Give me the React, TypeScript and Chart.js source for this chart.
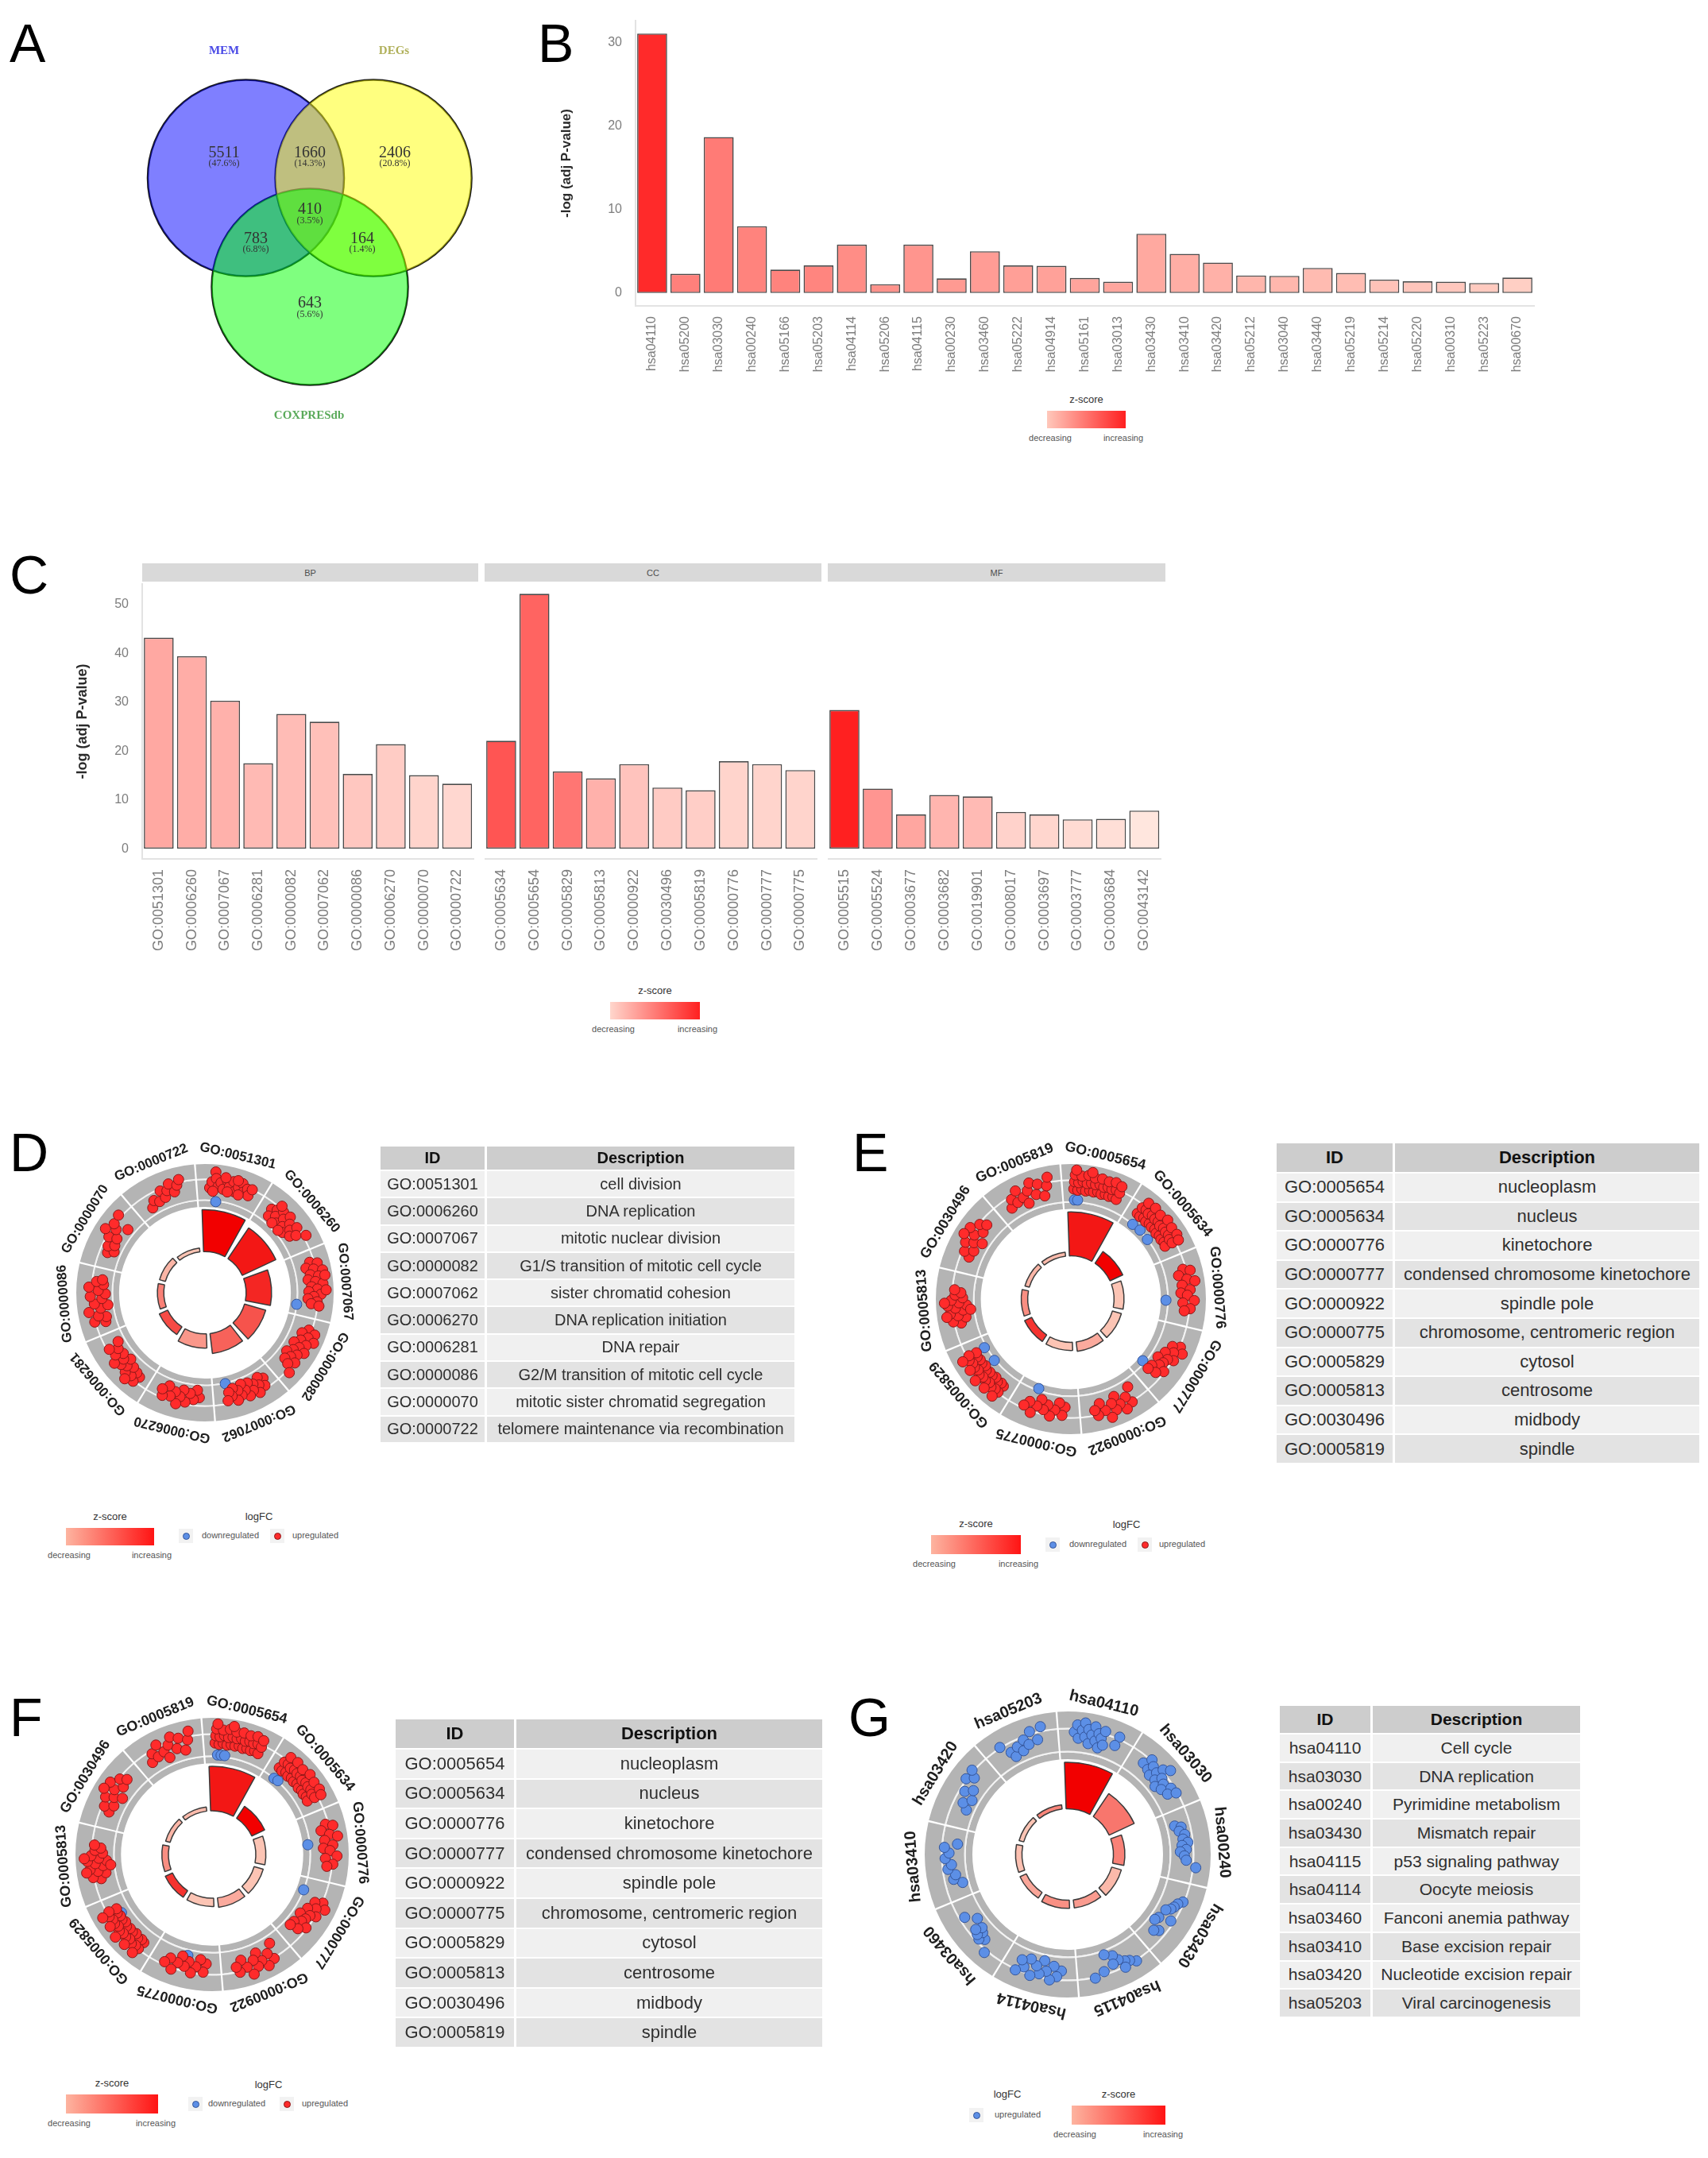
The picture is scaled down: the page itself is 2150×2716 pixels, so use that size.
import React, { useEffect, useRef } from 'react';
import { Chart, registerables } from 'chart.js';

Chart.register(...registerables);

const SANS = "'Liberation Sans', Arial, Helvetica, sans-serif";
const SERIF = "'Liberation Serif', 'Times New Roman', serif";
Chart.defaults.font.family = SANS;

/* ================= A : Venn ================= */
const vennSetNames = ['MEM', 'DEGs', 'COXPRESdb'];
// MEM only, MEM∩DEGs, DEGs only, all three, MEM∩COX, DEGs∩COX, COX only
const vennRegionCounts = [5511, 1660, 2406, 410, 783, 164, 643];

/* ================= B : KEGG bars ================= */
const keggIds = ['hsa04110', 'hsa05200', 'hsa03030', 'hsa00240', 'hsa05166', 'hsa05203', 'hsa04114', 'hsa05206', 'hsa04115', 'hsa00230', 'hsa03460', 'hsa05222', 'hsa04914', 'hsa05161', 'hsa03013', 'hsa03430', 'hsa03410', 'hsa03420', 'hsa05212', 'hsa03040', 'hsa03440', 'hsa05219', 'hsa05214', 'hsa05220', 'hsa00310', 'hsa05223', 'hsa00670'];
const keggLogP = [31.1, 2.3, 18.7, 8.0, 2.8, 3.3, 5.8, 1.05, 5.8, 1.75, 5.0, 3.3, 3.25, 1.8, 1.35, 7.1, 4.7, 3.65, 2.1, 2.05, 3.0, 2.4, 1.6, 1.4, 1.35, 1.2, 1.85];
const keggZ = [9.8, 6.4, 6.6, 6.3, 6.3, 6.2, 5.9, 5.7, 5.6, 5.4, 5.3, 5.2, 5.1, 5.0, 4.9, 4.8, 4.6, 4.5, 4.3, 4.25, 4.1, 4.0, 3.8, 3.7, 3.6, 3.5, 3.3];
const keggYTicks = [0, 10, 20, 30];

/* ================= C : GO bars ================= */
const goCategories = ['BP', 'CC', 'MF'];
const bpIds = ['GO:0051301', 'GO:0006260', 'GO:0007067', 'GO:0006281', 'GO:0000082', 'GO:0007062', 'GO:0000086', 'GO:0006270', 'GO:0000070', 'GO:0000722'];
const bpLogP = [43.2, 39.4, 30.3, 17.5, 27.6, 26.0, 15.3, 21.4, 15.05, 13.3];
const bpZ = [6.6, 6.3, 6.1, 5.6, 5.5, 5.3, 4.9, 4.6, 4.2, 4.0];
const ccIds = ['GO:0005634', 'GO:0005654', 'GO:0005829', 'GO:0005813', 'GO:0000922', 'GO:0030496', 'GO:0005819', 'GO:0000776', 'GO:0000777', 'GO:0000775'];
const ccLogP = [22.1, 52.2, 15.8, 14.4, 17.3, 12.5, 11.96, 17.9, 17.3, 16.1];
const ccZ = [11.1, 10.3, 9.3, 6.1, 5.1, 4.7, 4.5, 4.2, 4.2, 4.2];
const mfIds = ['GO:0005515', 'GO:0005524', 'GO:0003677', 'GO:0003682', 'GO:0019901', 'GO:0008017', 'GO:0003697', 'GO:0003777', 'GO:0003684', 'GO:0043142'];
const mfLogP = [28.4, 12.3, 7.0, 11.0, 10.7, 7.5, 7.0, 6.0, 6.1, 7.8];
const mfZ = [14.0, 7.6, 6.7, 5.9, 5.6, 4.3, 4.1, 3.8, 3.6, 3.2];
const goYTicks = [0, 10, 20, 30, 40, 50];

/* ================= D–G : circle terms & tables ================= */
const bpCircleIds = ['GO:0051301', 'GO:0006260', 'GO:0007067', 'GO:0000082', 'GO:0007062', 'GO:0006270', 'GO:0006281', 'GO:0000086', 'GO:0000070', 'GO:0000722'];
const bpCircleDesc = ['cell division', 'DNA replication', 'mitotic nuclear division', 'G1/S transition of mitotic cell cycle', 'sister chromatid cohesion', 'DNA replication initiation', 'DNA repair', 'G2/M transition of mitotic cell cycle', 'mitotic sister chromatid segregation', 'telomere maintenance via recombination'];
const ccCircleIds = ['GO:0005654', 'GO:0005634', 'GO:0000776', 'GO:0000777', 'GO:0000922', 'GO:0000775', 'GO:0005829', 'GO:0005813', 'GO:0030496', 'GO:0005819'];
const ccCircleDesc = ['nucleoplasm', 'nucleus', 'kinetochore', 'condensed chromosome kinetochore', 'spindle pole', 'chromosome, centromeric region', 'cytosol', 'centrosome', 'midbody', 'spindle'];
const keggCircleIds = ['hsa04110', 'hsa03030', 'hsa00240', 'hsa03430', 'hsa04115', 'hsa04114', 'hsa03460', 'hsa03410', 'hsa03420', 'hsa05203'];
const keggCircleDesc = ['Cell cycle', 'DNA replication', 'Pyrimidine metabolism', 'Mismatch repair', 'p53 signaling pathway', 'Oocyte meiosis', 'Fanconi anemia pathway', 'Base excision repair', 'Nucleotide excision repair', 'Viral carcinogenesis'];

// gene points per sector: [position across sector 0..1, logFC level 0..1]
const dUp = [
  [[.08,.45],[.12,.62],[.18,.9],[.2,.72],[.25,.5],[.3,.62],[.36,.45],[.42,.7],[.48,.55],[.54,.72],[.6,.45],[.66,.6],[.72,.74],[.78,.52],[.84,.64],[.9,.48],[.15,.36],[.46,.4],[.7,.4],[.93,.68],[.38,.78],[.62,.78]],
  [[.08,.5],[.12,.3],[.18,.58],[.24,.42],[.3,.66],[.35,.3],[.4,.52],[.46,.7],[.5,.36],[.56,.56],[.6,.26],[.66,.46],[.7,.66],[.76,.36],[.82,.52],[.92,.76],[.28,.22],[.5,.2],[.2,.75]],
  [[.05,.56],[.1,.76],[.15,.42],[.2,.62],[.25,.86],[.3,.5],[.35,.72],[.4,.42],[.45,.62],[.5,.82],[.55,.5],[.6,.66],[.65,.42],[.7,.76],[.75,.56],[.8,.4],[.85,.66],[.9,.5],[.93,.72],[.35,.9],[.62,.9]],
  [[.05,.6],[.1,.8],[.15,.45],[.2,.66],[.25,.86],[.3,.5],[.35,.7],[.4,.36],[.45,.56],[.5,.76],[.55,.45],[.6,.62],[.65,.32],[.7,.5],[.75,.7],[.8,.4],[.85,.56],[.96,.76]],
  [[.05,.4],[.1,.6],[.15,.3],[.2,.5],[.25,.7],[.3,.4],[.35,.56],[.4,.3],[.45,.66],[.5,.46],[.55,.26],[.6,.56],[.65,.4],[.7,.66],[.75,.3],[.8,.5],[.85,.38],[.9,.6]],
  [[.1,.45],[.15,.25],[.22,.52],[.3,.36],[.38,.62],[.45,.3],[.5,.5],[.55,.72],[.62,.4],[.7,.56],[.78,.3],[.85,.62],[.9,.45]],
  [[.05,.5],[.1,.7],[.15,.45],[.2,.62],[.28,.4],[.33,.66],[.4,.5],[.45,.3],[.5,.6],[.55,.45],[.6,.72],[.65,.36],[.72,.56],[.8,.4],[.88,.62],[.93,.3],[.25,.8]],
  [[.05,.4],[.1,.7],[.15,.35],[.2,.56],[.3,.8],[.35,.46],[.4,.25],[.45,.62],[.55,.4],[.6,.72],[.65,.3],[.72,.5],[.78,.76],[.85,.36],[.9,.56],[.95,.4]],
  [[.15,.46],[.22,.3],[.28,.52],[.35,.36],[.45,.62],[.5,.4],[.55,.82],[.65,.56],[.72,.7],[.8,.3],[.9,.76]],
  [[.15,.3],[.25,.46],[.35,.36],[.45,.62],[.5,.4],[.58,.56],[.65,.72],[.72,.46],[.8,.62],[.86,.76]],
];
const dDown = [[[.24,.08]], [], [[.95,.1]], [], [[.88,.12]], [], [], [], [], []];

const eUp = [
  [[.04,.45],[.12,.42],[.2,.46],[.28,.42],[.36,.45],[.44,.43],[.52,.46],[.6,.42],[.68,.45],[.76,.43],[.84,.46],[.92,.43],[.05,.64],[.13,.62],[.21,.66],[.29,.62],[.37,.65],[.45,.63],[.53,.66],[.61,.62],[.69,.65],[.77,.63],[.85,.66],[.93,.62],[.06,.82],[.18,.8],[.3,.84],[.42,.8],[.55,.82],[.68,.8],[.8,.84],[.92,.8],[.08,.95],[.36,.93]],
  [[.05,.4],[.13,.38],[.21,.42],[.29,.38],[.37,.41],[.45,.39],[.53,.42],[.61,.38],[.69,.41],[.77,.39],[.85,.42],[.93,.39],[.06,.6],[.14,.62],[.22,.58],[.3,.62],[.38,.6],[.46,.62],[.54,.58],[.62,.62],[.7,.6],[.78,.62],[.86,.58],[.94,.6],[.1,.8],[.25,.82],[.4,.78],[.55,.84],[.7,.8],[.85,.82],[.95,.78]],
  [[.1,.6],[.15,.78],[.2,.45],[.3,.65],[.35,.85],[.4,.5],[.5,.7],[.55,.45],[.6,.62],[.7,.8],[.75,.5],[.85,.7],[.9,.55]],
  [[.2,.7],[.25,.5],[.3,.82],[.35,.6],[.42,.4],[.48,.7],[.52,.55],[.58,.3],[.62,.5],[.7,.45],[.75,.65],[.8,.3],[.86,.5],[.9,.28]],
  [[.1,.3],[.18,.7],[.25,.5],[.32,.8],[.4,.6],[.45,.35],[.5,.7],[.55,.5],[.62,.85],[.7,.62],[.78,.4],[.85,.7],[.9,.55]],
  [[.1,.4],[.15,.62],[.22,.3],[.3,.5],[.38,.68],[.45,.4],[.52,.55],[.6,.3],[.66,.5],[.74,.72],[.82,.45],[.9,.6]],
  [[.05,.45],[.12,.42],[.2,.46],[.28,.4],[.36,.44],[.44,.42],[.52,.46],[.6,.4],[.68,.44],[.76,.42],[.84,.45],[.92,.41],[.06,.66],[.14,.64],[.22,.68],[.3,.62],[.38,.66],[.46,.64],[.54,.68],[.62,.62],[.7,.66],[.78,.64],[.86,.68],[.94,.62],[.1,.84],[.3,.82],[.5,.86],[.7,.8],[.9,.84]],
  [[.2,.5],[.25,.7],[.3,.35],[.35,.55],[.4,.75],[.45,.4],[.5,.6],[.55,.8],[.55,.3],[.6,.5],[.65,.7],[.7,.4],[.75,.6],[.8,.45],[.45,.2],[.35,.85],[.6,.88],[.85,.62]],
  [[.15,.45],[.22,.62],[.3,.4],[.38,.7],[.45,.5],[.52,.3],[.58,.6],[.65,.8],[.72,.45],[.8,.65],[.88,.5],[.5,.85]],
  [[.1,.4],[.18,.6],[.26,.45],[.32,.75],[.4,.5],[.46,.3],[.52,.62],[.6,.8],[.66,.45],[.74,.7],[.82,.35],[.9,.6],[.94,.82]],
];
const eDown = [[[.06,.16],[.13,.16]], [[.12,.1],[.33,.12],[.6,.1]], [[.7,.05]], [[.85,.04]], [], [[.74,.05]], [[.57,.13],[.93,.16]], [], [], []];
const fDown = [[[.1,.14],[.18,.14],[.26,.14]], [[.1,.1],[.2,.12]], [[.45,.05]], [[.1,.1]], [], [[.5,.25]], [[.8,.35]], [], [], []];

const gUp = [
  [[.1,.6],[.15,.78],[.18,.45],[.24,.66],[.28,.85],[.3,.5],[.35,.7],[.38,.35],[.42,.58],[.46,.8],[.5,.45],[.54,.65],[.58,.3],[.6,.55],[.64,.75],[.66,.4],[.9,.74],[.88,.5]],
  [[.12,.5],[.2,.7],[.26,.45],[.3,.6],[.36,.38],[.42,.55],[.46,.72],[.5,.4],[.56,.56],[.6,.3],[.66,.5],[.72,.38],[.8,.6],[.86,.45],[.92,.65],[.55,.85]],
  [[.1,.3],[.15,.45],[.22,.38],[.3,.5],[.38,.44],[.45,.55],[.5,.4],[.58,.5],[.62,.35],[.7,.45],[.78,.5],[.9,.75]],
  [[.15,.65],[.22,.55],[.3,.5],[.36,.45],[.42,.35],[.55,.6],[.62,.3],[.7,.25],[.82,.5],[.88,.4]],
  [[.1,.7],[.2,.6],[.28,.55],[.32,.7],[.38,.45],[.45,.3],[.5,.5],[.6,.2],[.7,.6],[.88,.7]],
  [[.1,.45],[.18,.6],[.25,.35],[.3,.7],[.38,.5],[.45,.25],[.5,.6],[.58,.42],[.65,.7],[.72,.3],[.8,.55],[.88,.4],[.92,.7]],
  [[.15,.75],[.3,.5],[.38,.6],[.42,.42],[.46,.55],[.5,.35],[.55,.5],[.7,.3],[.85,.55]],
  [[.1,.25],[.2,.45],[.28,.38],[.4,.55],[.48,.45],[.6,.6],[.7,.5],[.8,.62],[.88,.3]],
  [[.2,.3],[.3,.45],[.42,.28],[.5,.55],[.6,.38],[.7,.7],[.8,.55],[.88,.72]],
  [[.12,.7],[.25,.45],[.3,.3],[.4,.5],[.48,.35],[.55,.6],[.62,.45],[.7,.75],[.8,.5],[.9,.8]],
];

/* ================= helpers ================= */
function hexRgb(h: string) { return [1, 3, 5].map((i) => parseInt(h.slice(i, i + 2), 16)); }
function mix(a: string, b: string, t: number) {
  const pa = hexRgb(a), pb = hexRgb(b);
  const c = pa.map((v, k) => Math.round(v + (pb[k] - v) * Math.max(0, Math.min(1, t))));
  return `rgb(${c[0]},${c[1]},${c[2]})`;
}
const allGoIds = [...bpIds, ...ccIds, ...mfIds];
const allGoLogP = [...bpLogP, ...ccLogP, ...mfLogP];
const allGoZ = [...bpZ, ...ccZ, ...mfZ];
function lookup(ids: string[], srcIds: string[], src: number[]) { return ids.map((id) => src[srcIds.indexOf(id)]); }

function ChartCanvas({ left, top, width, height, config }: any) {
  const ref = useRef<HTMLCanvasElement>(null);
  useEffect(() => {
    const c = new Chart(ref.current as HTMLCanvasElement, config());
    return () => c.destroy();
  }, []);
  return <canvas ref={ref} width={width} height={height} style={{ position: 'absolute', left, top, width, height }} />;
}

function CText({ x, y, size, color, weight, family, children }: any) {
  return (
    <div style={{ position: 'absolute', left: x - 200, top: y - size * 0.6, width: 400, textAlign: 'center', fontSize: size, lineHeight: `${size * 1.2}px`, color: color || '#333', fontWeight: weight || 'normal', fontFamily: family || SANS, whiteSpace: 'nowrap' }}>{children}</div>
  );
}

function Letter({ x, capTop, ch }: any) {
  return <div style={{ position: 'absolute', left: x, top: capTop - 9, fontSize: 68, lineHeight: '68px', fontFamily: SANS, color: '#000' }}>{ch}</div>;
}

/* ================= Venn ================= */
const VENN_W = 640, VENN_H = 640;
const VENN_PAD = 130; // layout padding ≥ bubble overflow, so the plot area is exactly VENN_W × VENN_H
const VENN_XMIN = -3.158, VENN_XMAX = 2.024, VENN_YMIN = -2.955, VENN_YMAX = 2.227;
const VENN_RADIUS = 1;
const VENN_X = [-0.652, 0.648, 0];
const VENN_Y = [0.413, 0.413, -0.696];
const VENN_FILL = ['rgba(0,0,255,0.5)', 'rgba(255,255,0,0.5)', 'rgba(0,255,0,0.5)'];
const VENN_NAME_COLOR = ['#4a4ae6', '#b0b05a', '#5aaa5a'];
const REGION_X = [-0.874, 0, 0.866, 0, -0.551, 0.534, 0];
const REGION_Y = [0.615, 0.615, 0.615, 0.036, -0.259, -0.259, -0.919];
const NAME_X = [-0.874, 0.858, -0.008];
const NAME_Y = [1.709, 1.709, -2.008];

function vennConfig() {
  const pxPerUnit = VENN_W / (VENN_XMAX - VENN_XMIN);
  const pts = VENN_X.map((x, i) => ({ x, y: VENN_Y[i], r: VENN_RADIUS * pxPerUnit }));
  const total = vennRegionCounts.reduce((a, b) => a + b, 0);
  return {
    type: 'bubble',
    data: {
      datasets: [
        { data: pts, backgroundColor: VENN_FILL, borderWidth: 0, clip: false },
        { data: pts, backgroundColor: 'rgba(0,0,0,0)', borderColor: '#1a1a1a', borderWidth: 2.5, clip: false },
      ],
    },
    options: {
      animation: false, responsive: false, events: [],
      layout: { padding: VENN_PAD },
      plugins: { legend: { display: false }, tooltip: { enabled: false } },
      scales: {
        x: { type: 'linear', display: false, min: VENN_XMIN, max: VENN_XMAX },
        y: { type: 'linear', display: false, min: VENN_YMIN, max: VENN_YMAX },
      },
    },
    plugins: [{
      id: 'vennText',
      afterDatasetsDraw(chart: any) {
        const { ctx, scales: { x, y } } = chart;
        ctx.save();
        ctx.textAlign = 'center';
        ctx.textBaseline = 'middle';
        vennRegionCounts.forEach((c, i) => {
          const px = x.getPixelForValue(REGION_X[i]);
          const py = y.getPixelForValue(REGION_Y[i]);
          ctx.fillStyle = '#333';
          ctx.font = `20px ${SERIF}`;
          ctx.fillText(String(c), px, py - 6.5);
          ctx.font = `12px ${SERIF}`;
          ctx.fillText(`(${((c / total) * 100).toFixed(1)}%)`, px, py + 7);
        });
        vennSetNames.forEach((n, i) => {
          ctx.fillStyle = VENN_NAME_COLOR[i];
          ctx.font = `bold 15px ${SERIF}`;
          ctx.fillText(n, x.getPixelForValue(NAME_X[i]), y.getPixelForValue(NAME_Y[i]));
        });
        ctx.restore();
      },
    }],
  };
}

/* ================= Bar charts ================= */
function barConfig(o: any) {
  return () => ({
    type: 'bar',
    data: {
      labels: o.labels,
      datasets: [{ data: o.values, backgroundColor: o.colors, borderColor: '#4a4a4a', borderWidth: 1.6, borderSkipped: false, barPercentage: 0.9, categoryPercentage: 1 }],
    },
    options: {
      animation: false, responsive: false, events: [],
      layout: { padding: { top: o.padTop, right: o.padRight, left: 0, bottom: 0 } },
      plugins: { legend: { display: false }, tooltip: { enabled: false } },
      scales: {
        x: {
          offset: true,
          grid: { display: false },
          border: { display: true, color: '#e3e3e3', width: 2 },
          ticks: { autoSkip: false, minRotation: 90, maxRotation: 90, color: '#7d7d7d', font: { family: SANS, size: o.xFont }, padding: 5 },
          afterFit: (s: any) => { s.height = o.xHeight; },
        },
        y: {
          display: o.showY,
          min: o.yMin, max: o.yMax,
          grid: { display: false },
          border: { display: o.showY, color: '#e3e3e3', width: 2 },
          afterBuildTicks: (s: any) => { s.ticks = o.yTicks.map((v: number) => ({ value: v })); },
          ticks: { color: '#7d7d7d', font: { family: SANS, size: o.yFont }, padding: 9 },
          title: { display: o.showY, text: '-log (adj P-value)', color: '#2b2b2b', font: { family: SANS, size: o.titleSize, weight: 'bold' }, padding: { top: o.titlePad, bottom: 0 } },
          afterFit: (s: any) => { if (o.showY) s.width = o.yWidth; },
        },
      },
    },
  });
}

function ZLegend({ x, y, w, h, from, to }: any) {
  return (
    <>
      <CText x={x + w / 2} y={y - 14} size={13} color="#333">z-score</CText>
      <div style={{ position: 'absolute', left: x, top: y, width: w, height: h, background: `linear-gradient(to right, ${from}, ${to})` }} />
      <CText x={x + 4} y={y + h + 13} size={11} color="#555">decreasing</CText>
      <CText x={x + w - 3} y={y + h + 13} size={11} color="#555">increasing</CText>
    </>
  );
}

function Dot({ x, y, color, line }: any) {
  return (
    <>
      <div style={{ position: 'absolute', left: x - 9, top: y - 9, width: 18, height: 18, background: '#f2f2f2' }} />
      <div style={{ position: 'absolute', left: x - 4.5, top: y - 4.5, width: 9, height: 9, borderRadius: '50%', background: color, boxSizing: 'border-box', border: `1px solid ${line}` }} />
    </>
  );
}

/* ================= Circle plots ================= */
const SECTOR0 = 13.5;
const GAP_DEG = 5;
const HOLE = 0.32, BAR_BASE = 0.35, BAR_TOP = 0.645;
const RING_WEIGHTS = [0.34, 0.035, 0.45, 0.035, 0.14];
const RING_COLORS = ['#b4b4b4', '#f2f2f2', '#b4b4b4', '#f2f2f2', '#b4b4b4'];
const CIRCLE_LO = '#fcc4b4', CIRCLE_HI = '#f20000';
const PT_R0 = 0.69, PT_R1 = 0.28, PT_SPAN = 26;
const PT_PAD = 8; // ≥ point overflow (radius + border), keeps the scatter plot area predictable
const RED = '#ff2b2b', RED_LINE = '#8a1818', BLUE = '#5c8fe6', BLUE_LINE = '#34559a';

function GoCircle({ cx, cy, R, ids, values, zs, up, down, upFill, upLine, labelSize }: any) {
  const pad = 64;
  const S = Math.round(2 * (R + pad));
  const left = Math.round(cx - S / 2), top = Math.round(cy - S / 2);
  const n = ids.length, step = 360 / n;
  const barSpan = step - GAP_DEG;
  const zmin = Math.min(...zs), zmax = Math.max(...zs);
  const colors = zs.map((z: number) => mix(CIRCLE_LO, CIRCLE_HI, (z - zmin) / (zmax - zmin)));
  const vmin = Math.min(...values), vmax = Math.max(...values);
  const span = (vmax - vmin) / (BAR_TOP - BAR_BASE);
  const rMin = vmin - BAR_BASE * span, rMax = rMin + span;
  const holeVal = rMin + HOLE * span;
  const ext = (S / 2 - PT_PAD) / R;
  const common = { animation: false, responsive: false, events: [], plugins: { legend: { display: false }, tooltip: { enabled: false } } };

  const ringCfg = () => ({
    type: 'doughnut',
    data: {
      labels: ids,
      datasets: RING_WEIGHTS.map((w, k) => ({ data: ids.map(() => 1), backgroundColor: RING_COLORS[k], borderWidth: 0, weight: w, spacing: 7, hoverOffset: 0 })),
    },
    options: { ...common, rotation: SECTOR0 - step / 2, cutout: '66%', layout: { padding: pad } },
  });

  const barCfg = () => {
    const data: number[] = [], bg: string[] = [], bc: string[] = [], bw: number[] = [], ang: number[] = [], labels: string[] = [];
    values.forEach((v: number, i: number) => {
      data.push(v, rMin);
      bg.push(colors[i], 'rgba(0,0,0,0)');
      bc.push('#3a3a3a', 'rgba(0,0,0,0)');
      bw.push(1.5, 0);
      ang.push(barSpan, GAP_DEG);
      labels.push(ids[i], '');
    });
    return {
      type: 'polarArea',
      data: { labels, datasets: [{ data, backgroundColor: bg, borderColor: bc, borderWidth: bw, angle: ang }] },
      options: { ...common, layout: { padding: pad }, scales: { r: { display: false, min: rMin, max: rMax, startAngle: SECTOR0 - barSpan / 2 } } },
      plugins: [{
        id: 'hole',
        beforeDatasetDraw(chart: any, args: any) {
          const hr = chart.scales.r.getDistanceFromCenterForValue(holeVal);
          args.meta.data.forEach((el: any, j: number) => { if (j % 2 === 0) el.innerRadius = hr; });
        },
      }],
    };
  };

  const toXY = (i: number, t: number, rr: number) => {
    const th = ((SECTOR0 + step * i + (t - 0.5) * PT_SPAN) * Math.PI) / 180;
    const r = PT_R0 + rr * PT_R1;
    return { x: r * Math.sin(th), y: r * Math.cos(th) };
  };
  const upPts = up.flatMap((arr: number[][], i: number) => arr.map(([t, rr]) => toXY(i, t, rr)));
  const downPts = (down || []).flatMap((arr: number[][], i: number) => arr.map(([t, rr]) => toXY(i, t, rr)));

  const ptCfg = () => ({
    type: 'scatter',
    data: {
      datasets: [
        { data: upPts, backgroundColor: upFill, borderColor: upLine, borderWidth: 1, pointRadius: 6.5 },
        { data: downPts, backgroundColor: BLUE, borderColor: BLUE_LINE, borderWidth: 1, pointRadius: 6.5 },
      ],
    },
    options: {
      ...common,
      layout: { padding: PT_PAD },
      scales: {
        x: { type: 'linear', display: false, min: -ext, max: ext },
        y: { type: 'linear', display: false, min: -ext, max: ext },
      },
    },
    plugins: [{
      id: 'termLabels',
      afterDatasetsDraw(chart: any) {
        const { ctx, scales: { x, y } } = chart;
        const lr = (R + 15) / R;
        ctx.save();
        ctx.fillStyle = '#1e1e1e';
        ctx.font = `bold ${labelSize}px ${SANS}`;
        ctx.textAlign = 'center';
        ctx.textBaseline = 'middle';
        ids.forEach((id: string, i: number) => {
          const a = SECTOR0 + step * i;
          const th = (a * Math.PI) / 180;
          ctx.save();
          ctx.translate(x.getPixelForValue(lr * Math.sin(th)), y.getPixelForValue(lr * Math.cos(th)));
          ctx.rotate(th);
          ctx.fillText(id, 0, 0);
          ctx.restore();
        });
        ctx.restore();
      },
    }],
  });

  return (
    <>
      <ChartCanvas left={left} top={top} width={S} height={S} config={ringCfg} />
      <ChartCanvas left={left} top={top} width={S} height={S} config={barCfg} />
      <ChartCanvas left={left} top={top} width={S} height={S} config={ptCfg} />
    </>
  );
}

function GoTable({ left, top, width, idW, headH, rowH, fontSize, ids, descs }: any) {
  const cell = (bg: string, extra: any) => ({ background: bg, display: 'flex', alignItems: 'center', justifyContent: 'center', whiteSpace: 'nowrap', overflow: 'visible', ...extra });
  return (
    <div style={{ position: 'absolute', left, top, width, fontFamily: SANS, fontSize }}>
      <div style={{ display: 'flex', height: headH - 2, marginBottom: 2 }}>
        <div style={cell('#cdcdcd', { width: idW, fontWeight: 'bold', color: '#111' })}>ID</div>
        <div style={cell('#cdcdcd', { flex: 1, marginLeft: 3, fontWeight: 'bold', color: '#111' })}>Description</div>
      </div>
      {ids.map((id: string, i: number) => {
        const bg = i % 2 === 0 ? '#f0f0f0' : '#e3e3e3';
        return (
          <div key={id} style={{ display: 'flex', height: rowH - 2, marginBottom: 2 }}>
            <div style={cell(bg, { width: idW, color: '#2f2f2f' })}>{id}</div>
            <div style={cell(bg, { flex: 1, marginLeft: 3, color: '#2f2f2f' })}>{descs[i]}</div>
          </div>
        );
      })}
    </div>
  );
}

function FcLegend({ tx, ty, items }: any) {
  return (
    <>
      <CText x={tx} y={ty} size={13} color="#333">logFC</CText>
      {items.map((it: any) => (
        <React.Fragment key={it.label}>
          <Dot x={it.dx} y={it.dy} color={it.color} line={it.line} />
          <CText x={it.lx} y={it.dy} size={11} color="#555">{it.label}</CText>
        </React.Fragment>
      ))}
    </>
  );
}

/* ================= App ================= */
export default function App() {
  const bZmin = Math.min(...keggZ), bZmax = Math.max(...keggZ);
  const keggColors = keggZ.map((z) => mix('#ffcfc4', '#ff2a2a', (z - bZmin) / (bZmax - bZmin)));
  const gZmin = Math.min(...allGoZ), gZmax = Math.max(...allGoZ);
  const goColor = (zs: number[]) => zs.map((z) => mix('#ffe6de', '#ff2020', (z - gZmin) / (gZmax - gZmin)));

  // chart-area top is raised by the y tick-label overflow (~18.6px); canvases are shifted up by 20
  const bCfg = barConfig({
    labels: keggIds, values: keggLogP, colors: keggColors, showY: true, yMin: -1.55, yMax: 32.65, yTicks: keggYTicks,
    yWidth: 110, titlePad: 12.8, titleSize: 17, yFont: 16, xFont: 16, xHeight: 105, padTop: 20, padRight: 9,
  });
  const goPanels = [
    { ids: bpIds, vals: bpLogP, z: bpZ, left: 80, width: 522, showY: true },
    { ids: ccIds, vals: ccLogP, z: ccZ, left: 610, width: 424, showY: false },
    { ids: mfIds, vals: mfLogP, z: mfZ, left: 1042, width: 425, showY: false },
  ];

  const bpCircleVals = lookup(bpCircleIds, allGoIds, allGoLogP);
  const bpCircleZ = lookup(bpCircleIds, allGoIds, allGoZ);
  const ccCircleVals = lookup(ccCircleIds, allGoIds, allGoLogP);
  const ccCircleZ = lookup(ccCircleIds, allGoIds, allGoZ);
  const keggCircleVals = lookup(keggCircleIds, keggIds, keggLogP);
  const keggCircleZ = lookup(keggCircleIds, keggIds, keggZ);

  const circLegFrom = '#fdb4a0', circLegTo = '#ff1414';

  return (
    <div style={{ position: 'absolute', left: 0, top: 0, width: 2150, height: 2716, background: '#fff', fontFamily: SANS, overflow: 'hidden' }}>
      {/* A */}
      <Letter x={12} capTop={29} ch="A" />
      <ChartCanvas left={-VENN_PAD} top={-VENN_PAD} width={VENN_W + 2 * VENN_PAD} height={VENN_H + 2 * VENN_PAD} config={vennConfig} />

      {/* B */}
      <Letter x={677} capTop={29} ch="B" />
      <ChartCanvas left={690} top={6} width={1250} height={484} config={bCfg} />
      <ZLegend x={1318} y={517} w={99} h={22} from="#ffc8bb" to="#ff2020" />

      {/* C */}
      <Letter x={12} capTop={698} ch="C" />
      {goPanels.map((p, k) => {
        const areaLeft = p.showY ? p.left + 99 : p.left;
        const areaW = p.showY ? p.width - 99 : p.width;
        return (
          <React.Fragment key={goCategories[k]}>
            <div style={{ position: 'absolute', left: areaLeft, top: 709, width: areaW, height: 23, background: '#d9d9d9', display: 'flex', alignItems: 'center', justifyContent: 'center', fontSize: 11, color: '#4d4d4d' }}>{goCategories[k]}</div>
            <ChartCanvas left={p.left} top={715} width={p.width} height={498} config={barConfig({
              labels: p.ids, values: p.vals, colors: goColor(p.z), showY: p.showY, yMin: -2.1, yMax: 54.2, yTicks: goYTicks,
              yWidth: 99, titlePad: 13.2, titleSize: 18, yFont: 16, xFont: 18, xHeight: 132, padTop: 20, padRight: 0,
            })} />
          </React.Fragment>
        );
      })}
      <ZLegend x={768} y={1261} w={113} h={22} from="#ffd6cc" to="#ff2020" />

      {/* D */}
      <Letter x={12} capTop={1425} ch="D" />
      <GoCircle cx={258} cy={1627} R={162} ids={bpCircleIds} values={bpCircleVals} zs={bpCircleZ} up={dUp} down={dDown} upFill={RED} upLine={RED_LINE} labelSize={17} />
      <GoTable left={479} top={1443} width={521} idW={131} headH={31} rowH={34.3} fontSize={20} ids={bpCircleIds} descs={bpCircleDesc} />
      <ZLegend x={83} y={1923} w={111} h={22} from={circLegFrom} to={circLegTo} />
      <FcLegend tx={326} ty={1909} items={[
        { dx: 234, dy: 1933, lx: 290, color: BLUE, line: BLUE_LINE, label: 'downregulated' },
        { dx: 349, dy: 1933, lx: 397, color: RED, line: RED_LINE, label: 'upregulated' },
      ]} />

      {/* E */}
      <Letter x={1073} capTop={1425} ch="E" />
      <GoCircle cx={1348} cy={1635} R={170} ids={ccCircleIds} values={ccCircleVals} zs={ccCircleZ} up={eUp} down={eDown} upFill={RED} upLine={RED_LINE} labelSize={18} />
      <GoTable left={1607} top={1439} width={532} idW={146} headH={38} rowH={36.6} fontSize={22} ids={ccCircleIds} descs={ccCircleDesc} />
      <ZLegend x={1172} y={1932} w={113} h={24} from={circLegFrom} to={circLegTo} />
      <FcLegend tx={1418} ty={1919} items={[
        { dx: 1325, dy: 1944, lx: 1382, color: BLUE, line: BLUE_LINE, label: 'downregulated' },
        { dx: 1441, dy: 1944, lx: 1488, color: RED, line: RED_LINE, label: 'upregulated' },
      ]} />

      {/* F */}
      <Letter x={12} capTop={2136} ch="F" />
      <GoCircle cx={267} cy={2334} R={172} ids={ccCircleIds} values={ccCircleVals} zs={ccCircleZ} up={eUp} down={fDown} upFill={RED} upLine={RED_LINE} labelSize={18} />
      <GoTable left={498} top={2164} width={537} idW={149} headH={38} rowH={37.6} fontSize={22} ids={ccCircleIds} descs={ccCircleDesc} />
      <ZLegend x={83} y={2636} w={116} h={24} from={circLegFrom} to={circLegTo} />
      <FcLegend tx={338} ty={2624} items={[
        { dx: 246, dy: 2648, lx: 298, color: BLUE, line: BLUE_LINE, label: 'downregulated' },
        { dx: 361, dy: 2648, lx: 409, color: RED, line: RED_LINE, label: 'upregulated' },
      ]} />

      {/* G */}
      <Letter x={1068} capTop={2136} ch="G" />
      <GoCircle cx={1344} cy={2334} R={180} ids={keggCircleIds} values={keggCircleVals} zs={keggCircleZ} up={gUp} down={[]} upFill={BLUE} upLine={BLUE_LINE} labelSize={20} />
      <GoTable left={1611} top={2147} width={378} idW={114} headH={36} rowH={35.7} fontSize={21} ids={keggCircleIds} descs={keggCircleDesc} />
      <FcLegend tx={1268} ty={2636} items={[
        { dx: 1229, dy: 2662, lx: 1281, color: BLUE, line: BLUE_LINE, label: 'upregulated' },
      ]} />
      <ZLegend x={1349} y={2650} w={118} h={24} from={circLegFrom} to={circLegTo} />
    </div>
  );
}
